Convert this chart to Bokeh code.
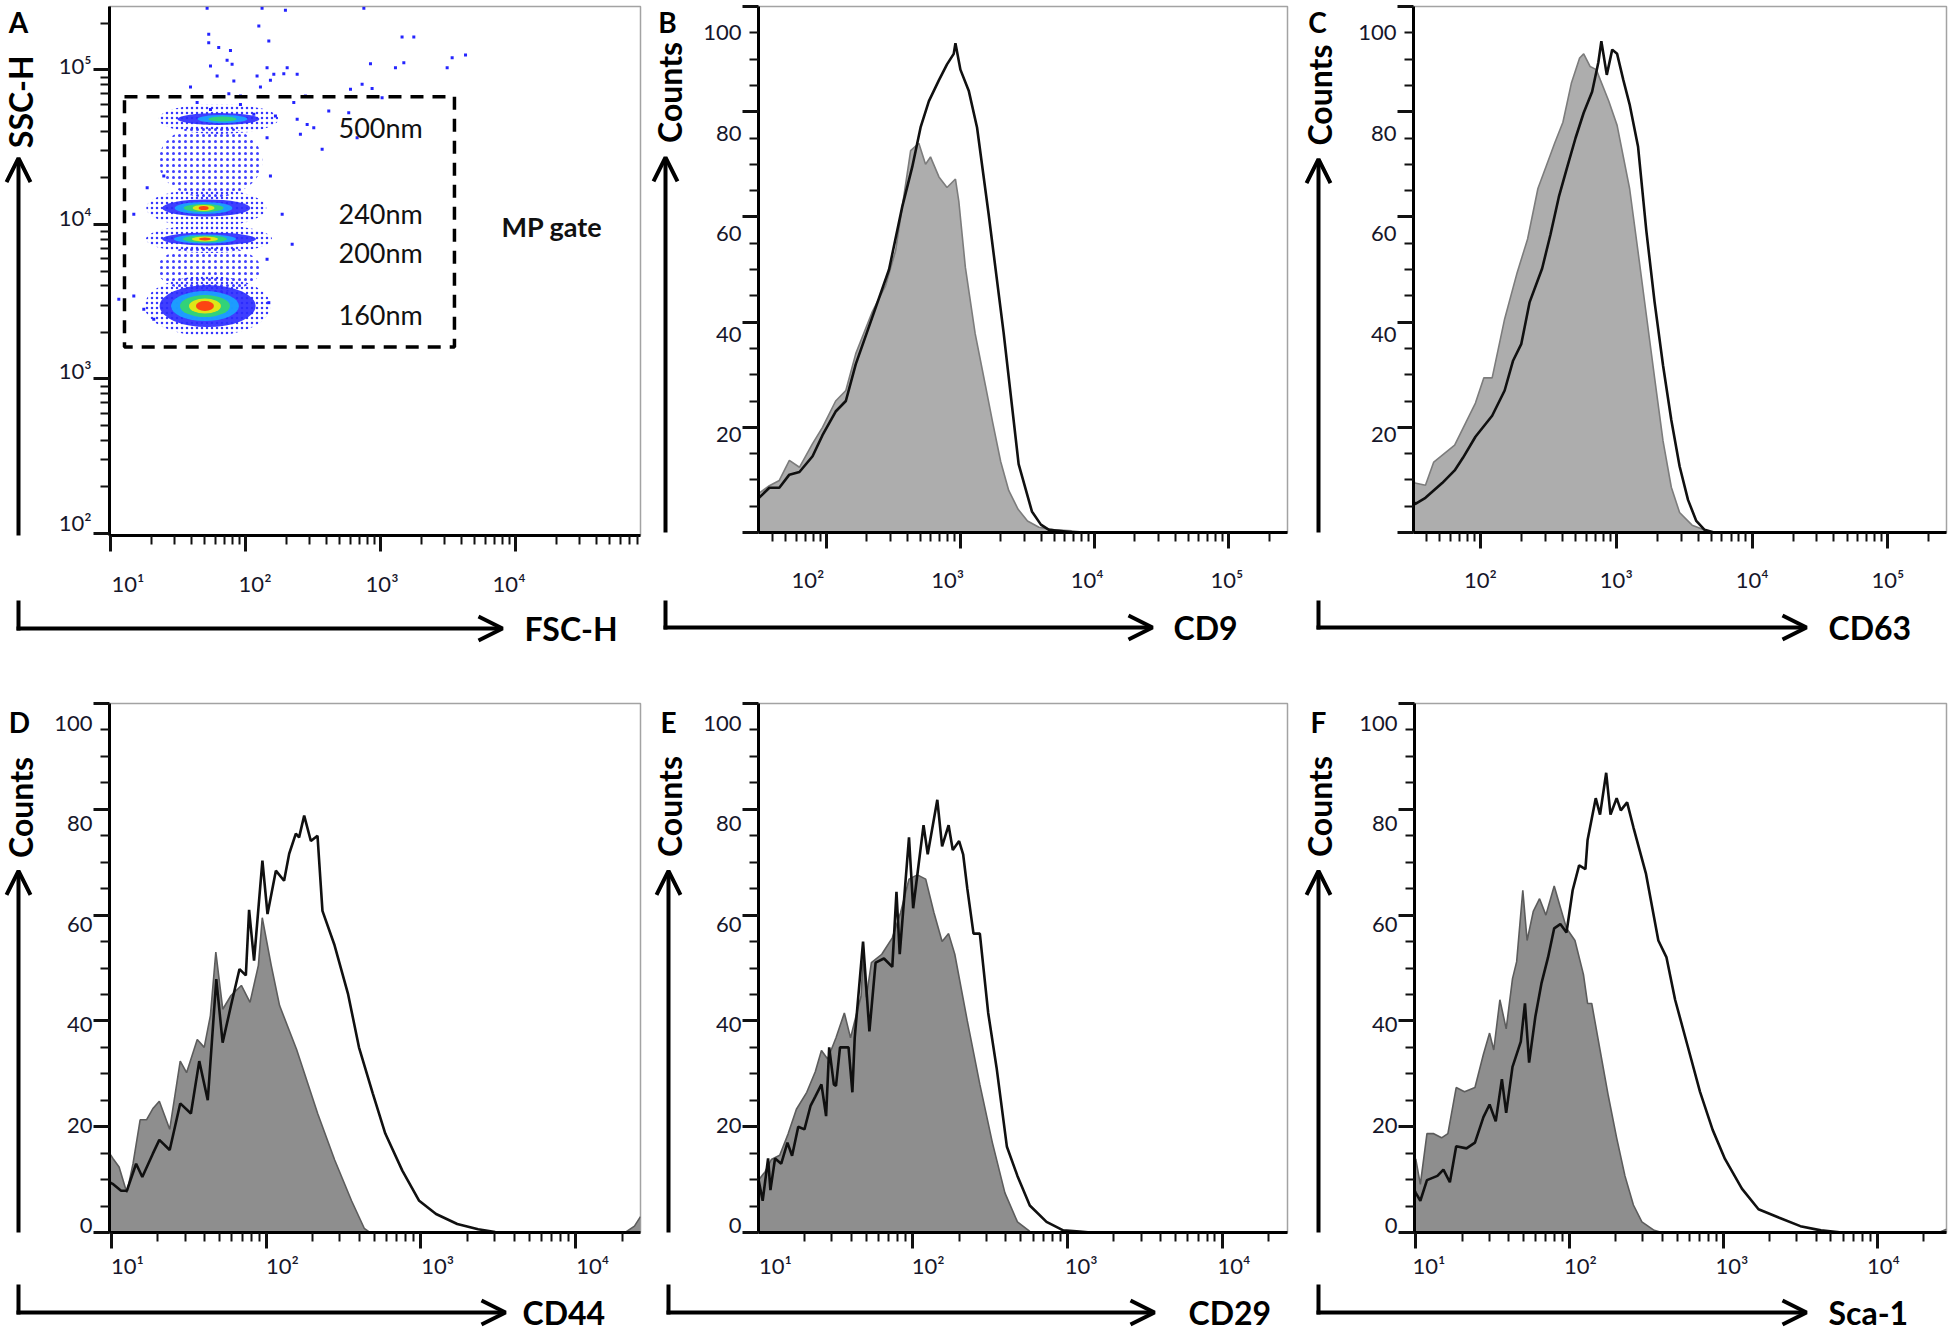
import math
from bokeh.plotting import figure
from bokeh.models import (Range1d, FixedTicker, LogAxis, LinearAxis, LogScale, Arrow, OpenHead)
from bokeh.layouts import row, column
from bokeh.embed import file_html
from bokeh.resources import INLINE
from bokeh.core.properties import value

FONT = "Lato"
TICK_COLOR = "#16162a"
TICK_SIZE = "22px"
SUP = {1: "\u00b9", 2: "\u00b2", 3: "\u00b3", 4: "\u2074", 5: "\u2075"}

# ====================== DATA ======================
# ---- Panel A : calibration beads, log10(FSC-H), log10(SSC-H)
bead_names = ["500nm", "240nm", "200nm", "160nm"]
bead_lfsc = [1.80, 1.71, 1.73, 1.72]
bead_core_lfsc = [1.83, 1.69, 1.70, 1.70]
bead_lssc = [4.683, 4.107, 3.906, 3.472]
bead_label_lfsc = 2.689
bead_label_lssc = [4.625, 4.068, 3.816, 3.42]
haze_lfsc = [1.74, 1.73]
haze_lssc = [4.41, 3.712]
gate_lfsc = [1.104, 3.548]
gate_lssc = [3.207, 4.827]
gate_name = "MP gate"
gate_name_pos = [3.896, 3.99]
dot_lfsc = [1.716, 2.123, 2.296, 2.877, 2.099, 1.728, 1.728, 2.173, 3.160, 3.247,
            1.802, 1.889, 1.864, 1.901, 1.741, 2.160, 2.309, 2.926, 3.173, 3.111,
            3.531, 3.630, 3.494, 1.790, 2.086, 2.210, 2.284, 2.383, 1.914, 2.185,
            1.593, 2.111, 2.864, 2.938, 2.778, 1.877, 1.963, 3.012, 2.444, 2.358,
            2.222, 2.617, 2.765, 2.383, 2.457, 2.506, 2.407, 2.568, 2.827, 2.160,
            1.395, 1.272, 2.185, 2.272, 2.346, 1.173, 2.160, 2.173, 1.062, 1.173,
            1.247, 1.321, 2.062, 1.963, 1.642, 1.741]
dot_lssc = [5.400, 5.400, 5.386, 5.400, 5.285, 5.231, 5.177, 5.188, 5.214, 5.214,
            5.145, 5.127, 5.063, 5.037, 5.026, 5.015, 5.015, 5.041, 5.047, 5.015,
            5.080, 5.097, 5.015, 4.961, 4.961, 4.972, 4.976, 4.972, 4.929, 4.933,
            4.890, 4.890, 4.907, 4.881, 4.875, 4.847, 4.832, 4.821, 4.832, 4.789,
            4.702, 4.735, 4.724, 4.681, 4.648, 4.627, 4.584, 4.487, 4.562, 4.562,
            4.314, 4.238, 4.314, 4.066, 3.872, 4.066, 3.775, 3.494, 3.516, 3.537,
            3.451, 3.386, 4.713, 4.777, 4.789, 4.745]

# ---- Panel B : CD9 (iso = grey filled control, mk = black line)
cd9_iso_lx = [1.495, 1.576, 1.65, 1.725, 1.80, 1.898, 1.972, 2.07, 2.146, 2.22, 2.344, 2.443,
              2.517, 2.567, 2.629, 2.69, 2.74, 2.777, 2.84, 2.90, 2.963, 2.988, 3.037, 3.11,
              3.186, 3.24, 3.30, 3.36, 3.43, 3.50, 3.585, 3.70, 3.83, 3.95]
cd9_iso_ct = [7.4, 8.9, 9.9, 13.7, 12.4, 16.9, 20, 25, 27, 34, 42, 47,
              53.6, 62, 72.6, 74, 70, 71.4, 67.6, 65.6, 67.2, 63, 50.4, 37.8,
              28, 21, 13.5, 8, 4.4, 2.2, 1, 0.5, 0.3, 0]
cd9_mk_lx = [1.495, 1.576, 1.65, 1.725, 1.80, 1.898, 1.972, 2.07, 2.146, 2.22, 2.344, 2.468,
             2.567, 2.641, 2.703, 2.765, 2.84, 2.90, 2.95, 2.963, 3.0, 3.062, 3.124, 3.21,
             3.322, 3.434, 3.533, 3.60, 3.66, 3.75, 3.85]
cd9_mk_ct = [6.5, 8.5, 8.5, 11, 11.5, 14.5, 18.5, 23, 25, 32, 41, 50,
             62, 69.5, 77, 82, 86, 89, 91, 93, 88, 84, 77, 60.6,
             38, 13, 4, 1.5, 0.5, 0.3, 0]

# ---- Panel C : CD63
cd63_iso_lx = [1.507, 1.518, 1.595, 1.656, 1.733, 1.81, 1.871, 1.963, 2.025, 2.086, 2.178, 2.27,
               2.347, 2.423, 2.515, 2.546, 2.607, 2.669, 2.73, 2.76, 2.807, 2.853, 2.883, 2.945,
               3.006, 3.098, 3.16, 3.221, 3.282, 3.344, 3.405, 3.466, 3.558, 3.68, 3.75]
cd63_iso_ct = [10, 9.4, 9, 13.4, 15, 16.6, 19.8, 24.6, 29.4, 29.4, 40.6, 49.4,
               55.8, 65.4, 71.8, 74, 78, 85.4, 90.2, 91, 88.6, 88, 86, 82,
               77.4, 65.4, 53.4, 41.4, 29.4, 17.4, 8.6, 3.8, 1.4, 0.2, 0]
cd63_mk_lx = [1.507, 1.518, 1.595, 1.718, 1.81, 1.871, 1.963, 2.086, 2.178, 2.239, 2.30, 2.362,
              2.454, 2.515, 2.577, 2.638, 2.70, 2.76, 2.822, 2.868, 2.89, 2.93, 2.97, 3.006,
              3.052, 3.098, 3.16, 3.221, 3.282, 3.344, 3.405, 3.466, 3.528, 3.589, 3.65, 3.72]
cd63_mk_ct = [6, 5.4, 6.6, 9.4, 11.8, 14.2, 18.2, 22.2, 27, 32.6, 35.8, 43.8,
              50.2, 56.6, 63.8, 69.4, 75, 79.8, 83.8, 89.4, 93.4, 87, 91.8, 91,
              86, 81.4, 73.4, 57.4, 43.8, 31.8, 21.4, 12.6, 6.2, 2.2, 0.5, 0]

# ---- Panel D : CD44
cd44_iso_lx = [0.988, 1.01, 1.05, 1.10, 1.14, 1.186, 1.227, 1.27, 1.31, 1.377, 1.445, 1.486,
               1.555, 1.60, 1.64, 1.675, 1.72, 1.773, 1.84, 1.896, 1.95, 1.975, 2.033, 2.087,
               2.197, 2.333, 2.443, 2.552, 2.634, 2.67, 4.32, 4.38, 4.419]
cd44_iso_ct = [15, 14, 12.4, 7.5, 13, 21.3, 21.3, 23.5, 24.8, 19.5, 32.4, 30.2,
               36.5, 35, 41, 53, 42.2, 44.8, 46.7, 43.5, 50.5, 59.5, 50.5, 42.9,
               34.6, 22.5, 13.7, 6, 0.8, 0, 0, 1.2, 3.0]
cd44_mk_lx = [0.988, 1.008, 1.063, 1.10, 1.16, 1.20, 1.268, 1.31, 1.377, 1.445, 1.514, 1.568,
              1.623, 1.678, 1.719, 1.773, 1.828, 1.869, 1.89, 1.922, 1.976, 2.009, 2.063, 2.116,
              2.149, 2.192, 2.213, 2.246, 2.289, 2.332, 2.364, 2.44, 2.53, 2.60, 2.689, 2.77,
              2.88, 2.989, 3.098, 3.235, 3.37, 3.48, 3.55]
cd44_mk_ct = [9.5, 9.2, 7.9, 7.9, 13, 10.5, 14.9, 17.5, 15.6, 24.4, 22.5, 32.4,
              25, 47.9, 35.9, 42.9, 49.8, 48.6, 61, 51.4, 70.3, 60.2, 68.4, 66.5,
              71.6, 75.4, 74.7, 78.8, 74, 75, 60.8, 54.5, 45, 35, 26.3, 18.7,
              11.7, 6, 3.5, 1.6, 0.6, 0.1, 0]

# ---- Panel E : CD29
cd29_iso_lx = [1.003, 1.046, 1.086, 1.14, 1.194, 1.248, 1.315, 1.37, 1.41, 1.45, 1.504, 1.558,
               1.598, 1.666, 1.68, 1.70, 1.733, 1.80, 1.868, 1.922, 1.976, 2.03, 2.084, 2.137,
               2.19, 2.232, 2.272, 2.353, 2.434, 2.515, 2.596, 2.677, 2.757, 2.80]
cd29_iso_ct = [9.9, 11.5, 13.8, 14.6, 18.6, 23.3, 26.5, 30.4, 34.4, 32.8, 36.8, 41.5,
               36.8, 44.7, 52, 44.5, 51, 52.6, 55.7, 60.5, 66.8, 67.6, 66.8, 60.5,
               55, 56.5, 52.6, 40, 28, 17, 7.5, 2, 0.2, 0]
cd29_mk_lx = [1.003, 1.03, 1.065, 1.08, 1.11, 1.15, 1.19, 1.22, 1.26, 1.30, 1.34, 1.37,
              1.41, 1.44, 1.46, 1.49, 1.504, 1.53, 1.585, 1.61, 1.625, 1.679, 1.72, 1.76,
              1.814, 1.868, 1.895, 1.916, 1.976, 2.003, 2.07, 2.097, 2.159, 2.19, 2.232, 2.259,
              2.30, 2.326, 2.353, 2.393, 2.434, 2.488, 2.542, 2.609, 2.677, 2.757, 2.865, 2.973,
              3.08, 3.15]
cd29_mk_ct = [10, 6, 14, 8, 14, 13, 17, 14.5, 20, 19.5, 24, 25.7,
              28, 22, 35, 28, 27.7, 35, 35, 26.5, 36.8, 55, 38, 51,
              51.8, 50.2, 64.4, 52.6, 74.7, 61.3, 77, 71.5, 81.8, 73, 77, 72.3,
              74, 71.5, 65, 56.5, 56.5, 41.5, 31.2, 16.2, 10.7, 5.1, 2, 0.4,
              0.2, 0]

# ---- Panel F : Sca-1
sca1_iso_lx = [0.992, 1.0, 1.03, 1.073, 1.114, 1.168, 1.209, 1.263, 1.317, 1.385, 1.44, 1.48,
               1.507, 1.547, 1.588, 1.629, 1.656, 1.696, 1.724, 1.764, 1.805, 1.846, 1.90, 1.94,
               1.98, 2.035, 2.09, 2.117, 2.144, 2.198, 2.252, 2.306, 2.36, 2.415, 2.47, 2.55,
               2.60, 4.40, 4.45]
sca1_iso_ct = [12, 13.9, 9.1, 18.7, 18.7, 17.9, 18.7, 27.4, 26.6, 27.4, 33.7, 37.7,
               34.5, 44, 38.5, 48, 51.2, 64.7, 55.2, 60.7, 63.1, 60, 65.5, 61.5,
               57.5, 55.2, 48.8, 43.3, 43.3, 34.5, 25.8, 17.9, 10.7, 5.2, 2, 0.4,
               0, 0, 0.6]
sca1_mk_lx = [0.992, 1.0, 1.03, 1.073, 1.141, 1.18, 1.222, 1.263, 1.33, 1.385, 1.44, 1.48,
              1.52, 1.56, 1.588, 1.629, 1.683, 1.71, 1.737, 1.778, 1.818, 1.86, 1.90, 1.94,
              1.98, 2.02, 2.062, 2.103, 2.117, 2.144, 2.17, 2.198, 2.238, 2.266, 2.306, 2.333,
              2.374, 2.415, 2.496, 2.577, 2.63, 2.686, 2.767, 2.848, 2.93, 3.01, 3.12, 3.228,
              3.363, 3.5, 3.634, 3.77]
sca1_mk_ct = [8, 7.5, 6, 9.9, 10.7, 11.9, 9.5, 16.3, 15.9, 17, 21.8, 24.2,
              21, 29, 22.6, 31.3, 36.1, 43.3, 32.1, 40.9, 47.2, 52, 57.5, 58.3,
              56.7, 64.7, 69.4, 68.7, 74.2, 78.2, 82.1, 79, 86.9, 79, 82.1, 79.8,
              81.3, 76.6, 67.9, 55.2, 52, 44, 35.3, 26.6, 19.4, 13.9, 8.3, 4.4,
              2.8, 1.2, 0.4, 0]

count_ticks = [0, 20, 40, 60, 80, 100]
count_minor = [v for v in range(5, 100, 5) if v % 20 != 0]


# ====================== HELPERS ======================
def log_minors(d0, d1):
    return [k * 10 ** d for d in range(d0, d1 + 1) for k in range(2, 10)]


def sup_labels(exps):
    return {10 ** e: "10" + SUP[e] for e in exps}


def base_fig(w, h, mb, xr, yr, xlog, ylog):
    p = figure(width=w, height=h, output_backend="svg", toolbar_location=None,
               x_axis_type="log" if xlog else "linear",
               y_axis_type="log" if ylog else "linear",
               x_range=Range1d(*xr), y_range=Range1d(*yr),
               min_border_left=mb[0], min_border_right=mb[1],
               min_border_top=mb[2], min_border_bottom=mb[3])
    p.xgrid.visible = False
    p.ygrid.visible = False
    p.outline_line_color = "#a3a3a3"
    p.outline_line_width = 1.5
    p.background_fill_color = "white"
    p.border_fill_color = "white"
    return p


def style_main(ax, major, minor):
    ax.ticker = FixedTicker(ticks=major, minor_ticks=minor)
    ax.axis_line_color = "black"
    ax.axis_line_width = 3
    ax.major_tick_line_color = "#111111"
    ax.major_tick_line_width = 3
    ax.major_tick_in = 0
    ax.major_tick_out = 16
    ax.minor_tick_line_color = "#111111"
    ax.minor_tick_line_width = 2
    ax.minor_tick_in = 0
    ax.minor_tick_out = 9
    ax.major_label_overrides = {t: " " for t in major}
    ax.major_label_text_font_size = "2px"
    ax.major_label_text_alpha = 0
    ax.major_label_standoff = 0


def label_axis(p, side, log, rng, ticks, overrides, standoff):
    if side == "below":
        p.extra_x_ranges = {"labx": Range1d(*rng)}
        if log:
            p.extra_x_scales = {"labx": LogScale()}
        ax = (LogAxis if log else LinearAxis)(x_range_name="labx")
    else:
        p.extra_y_ranges = {"laby": Range1d(*rng)}
        if log:
            p.extra_y_scales = {"laby": LogScale()}
        ax = (LogAxis if log else LinearAxis)(y_range_name="laby")
    ax.ticker = FixedTicker(ticks=ticks, minor_ticks=[])
    ax.axis_line_alpha = 0
    ax.major_tick_line_alpha = 0
    ax.minor_tick_line_alpha = 0
    ax.major_tick_in = 0
    ax.major_tick_out = 1
    ax.minor_tick_in = 0
    ax.minor_tick_out = 1
    if overrides:
        ax.major_label_overrides = overrides
    ax.major_label_text_font = FONT
    ax.major_label_text_font_size = TICK_SIZE
    ax.major_label_text_color = TICK_COLOR
    ax.major_label_standoff = standoff
    p.add_layout(ax, side)


def deco_fig(w, h):
    p = figure(width=w, height=h, x_range=Range1d(0, w), y_range=Range1d(h, 0),
               output_backend="svg", toolbar_location=None,
               x_axis_location=None, y_axis_location=None, min_border=0)
    p.min_border_left = p.min_border_right = p.min_border_top = p.min_border_bottom = 0
    p.xgrid.visible = False
    p.ygrid.visible = False
    p.outline_line_color = None
    p.background_fill_color = "white"
    p.border_fill_color = "white"
    return p


def left_strip(w, h, letter, letter_xy, ylab, ylab_xy, ax_x, tip_y):
    p = deco_fig(w, h)
    p.text(x=[letter_xy[0]], y=[letter_xy[1]], text=[letter], text_font=value(FONT),
           text_font_size=value("28px"), text_font_style="bold", text_color="black",
           text_align="center", text_baseline="middle")
    p.text(x=[ylab_xy[0]], y=[ylab_xy[1]], text=[ylab], angle=math.pi / 2, text_font=value(FONT),
           text_font_size=value("32px"), text_font_style="bold", text_color="black",
           text_align="center", text_baseline="middle")
    p.add_layout(Arrow(end=OpenHead(size=24, line_width=4, line_color="black"),
                       x_start=ax_x, y_start=h + 2, x_end=ax_x, y_end=tip_y,
                       line_width=4, line_color="black"))
    return p


def bottom_strip(w, h, ax_x, corner_y, tip_x, xlab, xlab_left):
    p = deco_fig(w, h)
    p.segment(x0=[ax_x], y0=[-2], x1=[ax_x], y1=[corner_y + 2], line_width=4, line_color="black")
    p.add_layout(Arrow(end=OpenHead(size=24, line_width=4, line_color="black"),
                       x_start=ax_x - 2, y_start=corner_y, x_end=tip_x, y_end=corner_y,
                       line_width=4, line_color="black"))
    p.text(x=[xlab_left], y=[corner_y], text=[xlab], text_font=value(FONT),
           text_font_size=value("32px"), text_font_style="bold", text_color="black",
           text_align="left", text_baseline="middle")
    return p


def hist_panel(w, h, mb, xr_e, xlab_e, ylab_rng, dec0, dec1, major_e, xlab_standoff,
               iso_lx, iso_ct, mk_lx, mk_ct, fill, edge):
    p = base_fig(w, h, mb, (10 ** xr_e[0], 10 ** xr_e[1]), (0, 100), True, False)
    style_main(p.xaxis[0], [10 ** e for e in major_e], log_minors(dec0, dec1))
    style_main(p.yaxis[0], count_ticks, count_minor)
    label_axis(p, "below", True, (10 ** xlab_e[0], 10 ** xlab_e[1]),
               [10 ** e for e in major_e], sup_labels(major_e), xlab_standoff)
    label_axis(p, "left", False, ylab_rng, count_ticks, None, 0)
    ix = [10 ** v for v in iso_lx]
    mx = [10 ** v for v in mk_lx]
    p.varea(x=ix, y1=0, y2=iso_ct, fill_color=fill, fill_alpha=1.0)
    p.line(ix, iso_ct, line_color=edge, line_width=1.6)
    p.line(mx, mk_ct, line_color="#101010", line_width=2.6)
    return p


# ====================== PANEL A ======================
pA = base_fig(604, 600, (65, 8, 6, 65), (10 ** 0.993, 10 ** 4.926),
              (10 ** 1.987, 10 ** 5.411), True, True)
style_main(pA.xaxis[0], [10, 100, 1000, 10000], log_minors(0, 4))
style_main(pA.yaxis[0], [100, 1000, 10000, 100000], log_minors(1, 5))
label_axis(pA, "below", True, (10 ** 0.854, 10 ** 5.035), [10, 100, 1000, 10000],
           sup_labels([1, 2, 3, 4]), 17)
label_axis(pA, "left", True, (10 ** 1.914, 10 ** 5.387), [100, 1000, 10000, 100000],
           sup_labels([2, 3, 4, 5]), 1)

hz_w = [104, 104]
hz_h = [74, 48]
pA.ellipse(x=[10 ** v for v in haze_lfsc], y=[10 ** v for v in haze_lssc], width=hz_w, height=hz_h,
           width_units="screen", height_units="screen", fill_alpha=0, line_alpha=0,
           hatch_pattern=value("."), hatch_color="#2a2aff", hatch_scale=6, hatch_weight=1.4,
           hatch_alpha=0.9)

layer_sizes = [
    [(120, 30), (82, 12), (50, 8), (28, 5), None, None],
    [(120, 38), (88, 17), (58, 12), (40, 8), (22, 6), (10, 4)],
    [(126, 28), (94, 13), (62, 9), (44, 7), (26, 5), (12, 3)],
    [(126, 60), (96, 42), (68, 30), (50, 22), (32, 15), (18, 10)],
]
layer_colors = [None, "#2a2aff", "#1aa6ff", "#35d86a", "#f2e80c", "#ff3212"]
for i in range(len(bead_names)):
    for j, sz in enumerate(layer_sizes[i]):
        if sz is None:
            continue
        cx = 10 ** (bead_lfsc[i] if j < 2 else bead_core_lfsc[i])
        cy = 10 ** bead_lssc[i]
        if j == 0:
            pA.ellipse(x=[cx], y=[cy], width=[sz[0]], height=[sz[1]], width_units="screen",
                       height_units="screen", fill_alpha=0, line_alpha=0,
                       hatch_pattern=value("."), hatch_color="#2a2aff", hatch_scale=5,
                       hatch_weight=1.5, hatch_alpha=0.95)
        else:
            pA.ellipse(x=[cx], y=[cy], width=[sz[0]], height=[sz[1]], width_units="screen",
                       height_units="screen", fill_color=layer_colors[j], fill_alpha=0.9,
                       line_alpha=0)

pA.scatter(x=[10 ** v for v in dot_lfsc], y=[10 ** v for v in dot_lssc], size=3,
           marker="square", fill_color="#2424ff", line_color=None)

pA.quad(left=[10 ** gate_lfsc[0]], right=[10 ** gate_lfsc[1]],
        bottom=[10 ** gate_lssc[0]], top=[10 ** gate_lssc[1]],
        fill_alpha=0, line_color="black", line_width=3.5, line_dash="13 9")

pA.text(x=[10 ** bead_label_lfsc] * 4, y=[10 ** v for v in bead_label_lssc], text=bead_names,
        text_font=value(FONT), text_font_size=value("27px"), text_color="#111111",
        text_align="left", text_baseline="middle")
pA.text(x=[10 ** gate_name_pos[0]], y=[10 ** gate_name_pos[1]], text=[gate_name],
        text_font=value(FONT), text_font_size=value("27px"), text_font_style="bold",
        text_color="#111111", text_align="left", text_baseline="middle")

# ====================== PANELS B-F ======================
FILL_LIGHT, EDGE_LIGHT = "#adadad", "#7c7c7c"
FILL_DARK, EDGE_DARK = "#8e8e8e", "#5c5c5c"

pB = hist_panel(598, 600, (56, 11, 6, 68), (1.495, 5.438), (1.646, 5.434), (0.6, 105.2),
                1, 5, [2, 3, 4, 5], 16, cd9_iso_lx, cd9_iso_ct, cd9_mk_lx, cd9_mk_ct,
                FILL_LIGHT, EDGE_LIGHT)
pC = hist_panel(600, 600, (63, 4, 6, 68), (1.507, 5.431), (1.507, 5.431), (0.6, 105.2),
                1, 5, [2, 3, 4, 5], 16, cd63_iso_lx, cd63_iso_ct, cd63_mk_lx, cd63_mk_ct,
                FILL_LIGHT, EDGE_LIGHT)
pD = hist_panel(604, 616, (65, 8, 35, 52), (0.988, 4.419), (0.885, 4.308), (-1.39, 104.0),
                0, 4, [1, 2, 3, 4], 2, cd44_iso_lx, cd44_iso_ct, cd44_mk_lx, cd44_mk_ct,
                FILL_DARK, EDGE_DARK)
pE = hist_panel(598, 616, (58, 11, 35, 52), (1.003, 4.423), (0.889, 4.351), (-1.39, 104.0),
                0, 4, [1, 2, 3, 4], 2, cd29_iso_lx, cd29_iso_ct, cd29_mk_lx, cd29_mk_ct,
                FILL_DARK, EDGE_DARK)
pF = hist_panel(600, 616, (64, 4, 35, 52), (0.992, 4.45), (0.905, 4.417), (-1.39, 104.0),
                0, 4, [1, 2, 3, 4], 2, sca1_iso_lx, sca1_iso_ct, sca1_mk_lx, sca1_mk_ct,
                FILL_DARK, EDGE_DARK)

# ====================== decorations (letters, arrows, axis names) ======================
lA = left_strip(44, 600, "A", (18, 18), "SSC-H", (20, 108), 18, 172)
bA = bottom_strip(648, 68, 18, 28, 502, "FSC-H", 524)
lB = left_strip(52, 600, "B", (19, 18), "Counts", (21, 98), 17, 172)
bB = bottom_strip(650, 68, 17, 27, 504, "CD9", 525)
lC = left_strip(52, 600, "C", (19, 18), "Counts", (21, 101), 20, 174)
bC = bottom_strip(652, 68, 20, 27, 508, "CD63", 530)

lD = left_strip(44, 616, "D", (19, 22), "Counts", (20, 121), 18, 195)
bD = bottom_strip(648, 52, 18, 28, 505, "CD44", 522)
lE = left_strip(52, 616, "E", (20, 22), "Counts", (21, 120), 20, 195)
bE = bottom_strip(650, 52, 20, 28, 506, "CD29", 540)
lF = left_strip(52, 616, "F", (20, 22), "Counts", (21, 120), 20, 195)
bF = bottom_strip(652, 52, 20, 28, 508, "Sca-1", 530)

layout = column(
    row(column(row(lA, pA), bA), column(row(lB, pB), bB), column(row(lC, pC), bC)),
    row(column(row(lD, pD), bD), column(row(lE, pE), bE), column(row(lF, pF), bF)),
)
open("out.html", "w").write(file_html(layout, INLINE, title="MP characterisation"))
